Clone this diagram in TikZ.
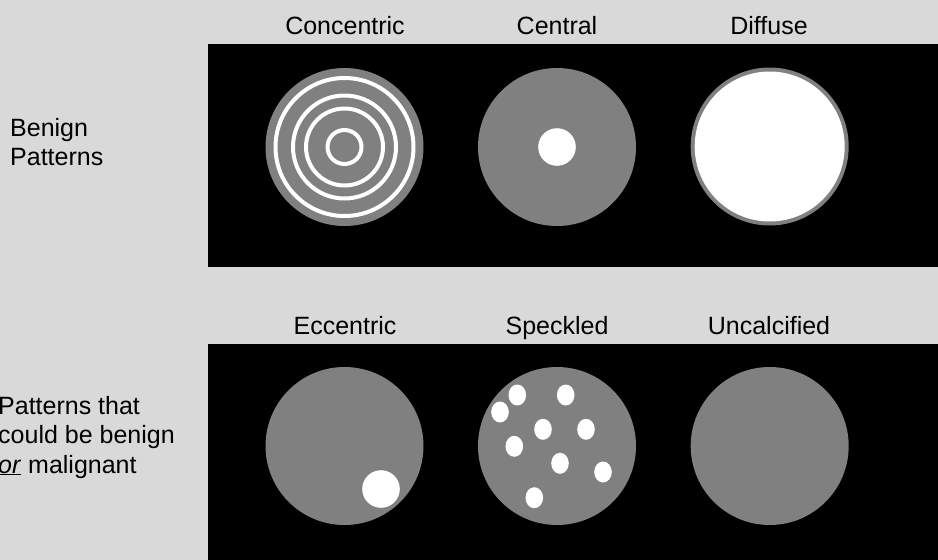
\documentclass[tikz,border=0pt]{standalone}
\usepackage{fontspec}
\setmainfont{Liberation Sans}
\begin{document}
\begin{tikzpicture}[x=1pt,y=-1pt]
\definecolor{bg}{HTML}{D9D9D9}
\definecolor{mid}{HTML}{808080}
\tikzset{
  lbl/.style={font=\fontsize{25}{29.5}\selectfont, inner sep=0pt, anchor=base},
  side/.style={lbl, anchor=base west, align=left},
  disc/.style={fill=mid},
  spot/.style={fill=white},
  ring/.style={draw=white, line width=4pt},
  panel/.style={fill=black}
}
\fill[bg] (0,0) rectangle (938,560);
\useasboundingbox (0,0) rectangle (938,560);
\fill[panel] (208,44) rectangle (938,267);
\fill[panel] (208,344) rectangle (938,560);

% column labels
\node[lbl] (lconc) at (345,34) {Concentric};
\node[lbl] (lcent) at (557,34) {Central};
\node[lbl] (ldiff) at (769,34) {Diffuse};
\node[lbl] (lecc) at (345,334) {Eccentric};
\node[lbl] (lspeck) at (557,334) {Speckled};
\node[lbl] (luncal) at (769,334) {Uncalcified};

% row labels
\node[side] (lbenign) at (10,165.5) {Benign\\Patterns};
\node[side] (lmaybe) at (-2,473) {Patterns that\\could be benign\\\underline{\textit{or}} malignant};

% Concentric
\fill[disc] (344.5,147) circle[radius=79pt];
\foreach \r in {69,51.5,38.5,17}{
  \draw[ring] (344.5,147) circle[radius=\r pt];
}
% Central
\fill[disc] (557,147) circle[radius=79pt];
\fill[spot] (557,147) circle[radius=18.8pt];
% Diffuse
\fill[disc] (769.7,146.5) circle[radius=79pt];
\fill[spot] (769.7,146.5) circle[radius=75pt];

% Eccentric
\fill[disc] (344.5,446) circle[radius=79pt];
\fill[spot] (381,489) circle[radius=18.8pt];
% Speckled
\fill[disc] (557,446) circle[radius=79pt];
\foreach \x/\y in {517.3/395, 565.7/395, 500/412, 543/429.3, 586/429.3, 514.3/446.3, 560/463.3, 603/472, 534.3/497.7}{
  \fill[spot] (\x,\y) ellipse[x radius=8.8pt, y radius=10.5pt];
}
% Uncalcified
\fill[disc] (769.7,446) circle[radius=79pt];
\end{tikzpicture}
\end{document}
